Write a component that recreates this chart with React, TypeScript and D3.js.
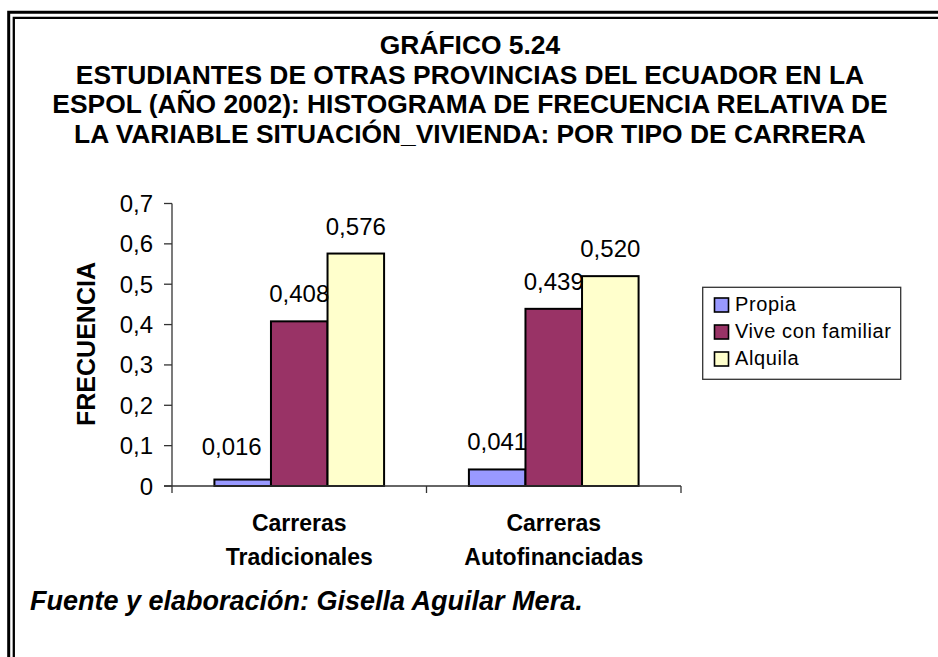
import React from "react";
import * as d3 from "d3";

const titleLines = [
  "GRÁFICO 5.24",
  "ESTUDIANTES DE OTRAS PROVINCIAS DEL ECUADOR EN LA",
  "ESPOL (AÑO 2002): HISTOGRAMA DE FRECUENCIA RELATIVA DE",
  "LA VARIABLE SITUACIÓN_VIVIENDA: POR TIPO DE CARRERA",
];
const categories = ["Carreras Tradicionales", "Carreras Autofinanciadas"];
const categoryLines = [
  ["Carreras", "Tradicionales"],
  ["Carreras", "Autofinanciadas"],
];
const seriesNames = ["Propia", "Vive con familiar", "Alquila"];
const propia = [0.016, 0.041];
const viveConFamiliar = [0.408, 0.439];
const alquila = [0.576, 0.52];
const seriesValues = [propia, viveConFamiliar, alquila];
const yTicks = [0, 0.1, 0.2, 0.3, 0.4, 0.5, 0.6, 0.7];
const yAxisTitle = "FRECUENCIA";
const footer = "Fuente y elaboración: Gisella Aguilar Mera.";

const colors = ["#9999FF", "#993366", "#FFFFCC"];
const FONT = "'Liberation Sans', Arial, sans-serif";

const fmtTick = (v: number) => (v === 0 ? "0" : d3.format(".1f")(v).replace(".", ","));
const fmtVal = (v: number) => d3.format(".3f")(v).replace(".", ",");

export default function App() {
  const W = 938;
  const H = 657;
  const plotLeft = 172;
  const plotRight = 681;
  const y0 = 486;
  const yTop = 203.5;

  const x0 = d3.scaleBand<string>().domain(categories).range([plotLeft, plotRight]).paddingInner(0).paddingOuter(0);
  const y = d3.scaleLinear().domain([0, 0.7]).range([y0, yTop]);
  const band = x0.bandwidth();
  const groupW = (band * 3) / 4.5;
  const x1 = d3
    .scaleBand<string>()
    .domain(seriesNames)
    .range([(band - groupW) / 2, (band + groupW) / 2])
    .padding(0);

  const labelNudge: Record<string, { dx: number; dy: number }> = {
    "0-0": { dx: -11, dy: -6 },
  };

  return (
    <svg
      width={W}
      height={H}
      style={{ position: "absolute", left: 0, top: 0, background: "#fff" }}
      fontFamily={FONT}
    >
      <rect x={0} y={0} width={W} height={H} fill="#fff" />
      {/* double border */}
      <path d={`M8.7,${H} V12.2 H${W}`} fill="none" stroke="#000" strokeWidth={3} />
      <path d={`M13.8,${H} V17.8 H${W}`} fill="none" stroke="#000" strokeWidth={2.3} />

      {/* title */}
      {titleLines.map((t, i) => (
        <text
          key={i}
          x={470}
          y={54 + i * 29.5}
          textAnchor="middle"
          fontWeight="bold"
          fontSize={26.4}
          fill="#000"
        >
          {t}
        </text>
      ))}

      {/* bars */}
      {categories.map((c, ci) =>
        seriesNames.map((s, si) => {
          const v = seriesValues[si][ci];
          const bx = (x0(c) as number) + (x1(s) as number);
          return (
            <rect
              key={`${ci}-${si}`}
              x={bx}
              y={y(v)}
              width={x1.bandwidth()}
              height={y0 - y(v)}
              fill={colors[si]}
              stroke="#000"
              strokeWidth={2}
            />
          );
        })
      )}

      {/* axes */}
      <line x1={plotLeft} x2={plotLeft} y1={yTop} y2={y0 + 7} stroke="#333" strokeWidth={1.3} />
      <line x1={plotLeft - 8} x2={plotRight} y1={y0} y2={y0} stroke="#333" strokeWidth={1.3} />
      {yTicks.map((t) => (
        <g key={t}>
          <line x1={plotLeft - 8} x2={plotLeft} y1={y(t)} y2={y(t)} stroke="#333" strokeWidth={1.3} />
          <text x={plotLeft - 19} y={y(t) + 8.5} textAnchor="end" fontSize={24} fill="#000">
            {fmtTick(t)}
          </text>
        </g>
      ))}
      {categories.map((c) => (
        <line
          key={c}
          x1={(x0(c) as number) + band}
          x2={(x0(c) as number) + band}
          y1={y0}
          y2={y0 + 7}
          stroke="#333"
          strokeWidth={1.3}
        />
      ))}

      {/* value labels */}
      {categories.map((c, ci) =>
        seriesNames.map((s, si) => {
          const v = seriesValues[si][ci];
          const cx = (x0(c) as number) + (x1(s) as number) + x1.bandwidth() / 2;
          const n = labelNudge[`${ci}-${si}`] || { dx: 0, dy: 0 };
          return (
            <text
              key={`l${ci}-${si}`}
              x={cx + n.dx}
              y={y(v) - 19 + n.dy}
              textAnchor="middle"
              fontSize={24}
              fill="#000"
            >
              {fmtVal(v)}
            </text>
          );
        })
      )}

      {/* category labels */}
      {categories.map((c, ci) => (
        <text
          key={`c${ci}`}
          x={(x0(c) as number) + band / 2}
          textAnchor="middle"
          fontWeight="bold"
          fontSize={23}
          fill="#000"
        >
          {categoryLines[ci].map((ln, li) => (
            <tspan key={li} x={(x0(c) as number) + band / 2} y={531 + li * 34}>
              {ln}
            </tspan>
          ))}
        </text>
      ))}

      {/* y-axis title */}
      <text
        transform="translate(95,344) rotate(-90)"
        textAnchor="middle"
        fontWeight="bold"
        fontSize={25}
        fill="#000"
      >
        {yAxisTitle}
      </text>

      {/* legend */}
      <rect x={702.7} y={287.3} width={198} height={92} fill="#fff" stroke="#333" strokeWidth={1.3} />
      {seriesNames.map((s, i) => (
        <g key={s}>
          <rect
            x={714.5}
            y={298 + i * 27}
            width={14}
            height={14}
            fill={colors[i]}
            stroke="#000"
            strokeWidth={1.6}
          />
          <text x={735} y={311 + i * 27} fontSize={20} letterSpacing={0.6} fill="#000">
            {s}
          </text>
        </g>
      ))}

      {/* footer */}
      <text x={30} y={610} fontWeight="bold" fontStyle="italic" fontSize={27} fill="#000">
        {footer}
      </text>
    </svg>
  );
}
